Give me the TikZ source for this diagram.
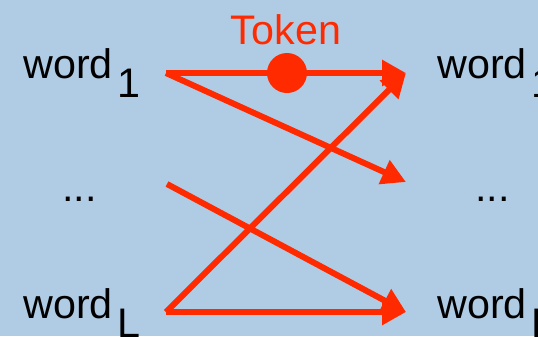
\documentclass[tikz,border=0pt]{standalone}
\usepackage{fontspec}
\setmainfont{Liberation Sans}
\usepackage{tikz}
\usetikzlibrary{arrows.meta,positioning}
\definecolor{skyback}{HTML}{B0CCE4}
\definecolor{tokred}{HTML}{FF2A00}

\begin{document}
\begin{tikzpicture}[x=0.02cm,y=-0.02cm,
  lbl/.style={inner sep=0pt,anchor=base west,font=\fontsize{23.5}{28}\selectfont},
  arr/.style={-{Triangle[length=0.48cm,width=0.5cm]},line width=0.12cm,draw=tokred}]
\useasboundingbox (0,0) rectangle (538,336);
\fill[skyback] (0,0) rectangle (538,336);
\clip (0,0) rectangle (538,336);
% words on both sides
\node[lbl] (in1) at (23,78) {word\hspace{0.1cm}\raisebox{-0.38cm}{1}};
\node[lbl] (inM) at (62,201) {...};
\node[lbl] (inL) at (23,318) {word\hspace{0.1cm}\raisebox{-0.38cm}{L}};
\node[lbl] (out1) at (437,78) {word\hspace{0.1cm}\raisebox{-0.38cm}{1}};
\node[lbl] (outM) at (475,201) {...};
\node[lbl] (outL) at (437,318) {word\hspace{0.1cm}\raisebox{-0.38cm}{L}};
% arrow ends
\coordinate (s1) at (166,73);
\coordinate (sM) at (167,184);
\coordinate (sL) at (166,312);
\coordinate (t1) at (406,73);
\coordinate (tM) at (406,182);
\coordinate (tL) at (406,312);
\draw[arr] (s1) -- (t1);
\draw[arr] (s1) -- (tM);
\draw[arr] (sM) -- (tL);
\draw[arr] (sL) -- (t1);
\draw[arr] (sL) -- (tL);
\node[circle,fill=tokred,minimum size=0.8cm,inner sep=0pt] (tok) at (287,73) {};
\node[lbl,anchor=base,text=tokred] (toklbl) at (286,44) {Token};
\end{tikzpicture}
\end{document}
